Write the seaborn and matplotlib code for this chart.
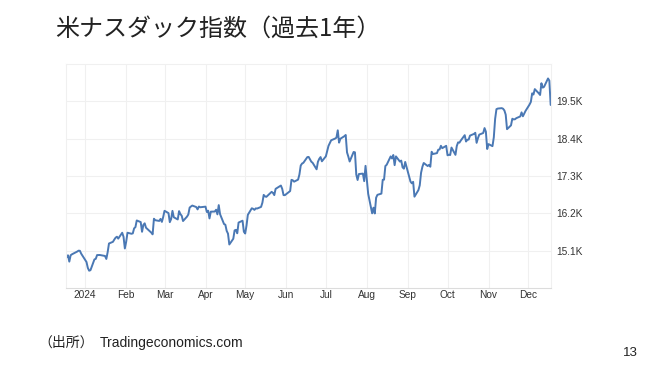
import matplotlib
matplotlib.use("Agg")
import matplotlib.pyplot as plt
import pandas as pd
import seaborn as sns

# ---- data (Nasdaq composite) ----
dates = [
    "2023-12-18","2023-12-19","2023-12-20","2023-12-21","2023-12-22","2023-12-26","2023-12-27","2023-12-28","2023-12-29",
    "2024-01-02","2024-01-03","2024-01-04","2024-01-05","2024-01-08","2024-01-09","2024-01-10","2024-01-11","2024-01-12",
    "2024-01-16","2024-01-17","2024-01-18","2024-01-19","2024-01-22","2024-01-23","2024-01-24","2024-01-25","2024-01-26",
    "2024-01-29","2024-01-30","2024-01-31","2024-02-01","2024-02-02","2024-02-05","2024-02-06","2024-02-07","2024-02-08",
    "2024-02-09","2024-02-12","2024-02-13","2024-02-14","2024-02-15","2024-02-16","2024-02-20","2024-02-21","2024-02-22",
    "2024-02-23","2024-02-26","2024-02-27","2024-02-28","2024-02-29","2024-03-01","2024-03-04","2024-03-05","2024-03-06",
    "2024-03-07","2024-03-08","2024-03-11","2024-03-12","2024-03-13","2024-03-14","2024-03-15","2024-03-18","2024-03-19",
    "2024-03-20","2024-03-21","2024-03-22","2024-03-25","2024-03-26","2024-03-27","2024-03-28","2024-04-01","2024-04-02",
    "2024-04-03","2024-04-04","2024-04-05","2024-04-08","2024-04-09","2024-04-10","2024-04-11","2024-04-12","2024-04-15",
    "2024-04-16","2024-04-17","2024-04-18","2024-04-19","2024-04-22","2024-04-23","2024-04-24","2024-04-25","2024-04-26",
    "2024-04-29","2024-04-30","2024-05-01","2024-05-02","2024-05-03","2024-05-06","2024-05-07","2024-05-08","2024-05-09",
    "2024-05-10","2024-05-13","2024-05-14","2024-05-15","2024-05-16","2024-05-17","2024-05-20","2024-05-21","2024-05-22",
    "2024-05-23","2024-05-24","2024-05-28","2024-05-29","2024-05-30","2024-05-31","2024-06-03","2024-06-04","2024-06-05",
    "2024-06-06","2024-06-07","2024-06-10","2024-06-11","2024-06-12","2024-06-13","2024-06-14","2024-06-17","2024-06-18",
    "2024-06-20","2024-06-21","2024-06-24","2024-06-25","2024-06-26","2024-06-27","2024-06-28","2024-07-01","2024-07-02",
    "2024-07-03","2024-07-05","2024-07-08","2024-07-09","2024-07-10","2024-07-11","2024-07-12","2024-07-15","2024-07-16",
    "2024-07-17","2024-07-18","2024-07-19","2024-07-22","2024-07-23","2024-07-24","2024-07-25","2024-07-26","2024-07-29",
    "2024-07-30","2024-07-31","2024-08-01","2024-08-02","2024-08-05","2024-08-06","2024-08-07","2024-08-08","2024-08-09",
    "2024-08-12","2024-08-13","2024-08-14","2024-08-15","2024-08-16","2024-08-19","2024-08-20","2024-08-21","2024-08-22",
    "2024-08-23","2024-08-26","2024-08-27","2024-08-28","2024-08-29","2024-08-30","2024-09-03","2024-09-04","2024-09-05",
    "2024-09-06","2024-09-09","2024-09-10","2024-09-11","2024-09-12","2024-09-13","2024-09-16","2024-09-17","2024-09-18",
    "2024-09-19","2024-09-20","2024-09-23","2024-09-24","2024-09-25","2024-09-26","2024-09-27","2024-09-30","2024-10-01",
    "2024-10-02","2024-10-03","2024-10-04","2024-10-07","2024-10-08","2024-10-09","2024-10-10","2024-10-11","2024-10-14",
    "2024-10-15","2024-10-16","2024-10-17","2024-10-18","2024-10-21","2024-10-22","2024-10-23","2024-10-24","2024-10-25",
    "2024-10-28","2024-10-29","2024-10-30","2024-10-31","2024-11-01","2024-11-04","2024-11-05","2024-11-06","2024-11-07",
    "2024-11-08","2024-11-11","2024-11-12","2024-11-13","2024-11-14","2024-11-15","2024-11-18","2024-11-19","2024-11-20",
    "2024-11-21","2024-11-22","2024-11-25","2024-11-26","2024-11-27","2024-11-29","2024-12-02","2024-12-03","2024-12-04",
    "2024-12-05","2024-12-06","2024-12-09","2024-12-10","2024-12-11","2024-12-12","2024-12-13","2024-12-16","2024-12-17",
    "2024-12-18",
]
values = [
    14905,14964,14777,14964,14993,15074,15100,15096,15011,
    14766,14592,14510,14524,14843,14858,14970,14970,14973,
    14944,14856,15056,15311,15361,15426,15482,15511,15455,
    15628,15509,15164,15361,15629,15598,15609,15756,15794,
    15990,15942,15656,15859,15906,15776,15631,15581,16041,
    15997,15976,16036,15948,16092,16275,16207,15940,16032,
    16273,16085,16019,16265,16178,16129,15973,16103,16167,
    16369,16402,16429,16385,16316,16400,16379,16397,16240,
    16277,16050,16249,16253,16306,16170,16443,16175,15885,
    15865,15684,15601,15282,15451,15697,15713,15612,15928,
    15983,15658,15605,15840,16156,16349,16333,16302,16346,
    16341,16389,16512,16743,16698,16686,16795,16833,16802,
    16737,16921,17019,16921,16737,16735,16829,16857,17187,
    17173,17133,17193,17343,17608,17667,17689,17857,17862,
    17721,17689,17497,17718,17805,17858,17733,17879,18029,
    18188,18352,18403,18430,18647,18283,18398,18473,18509,
    17996,17871,17727,18008,17997,17342,17182,17358,17370,
    17147,17599,17194,16776,16200,16367,16196,16660,16745,
    16781,17188,17192,17594,17631,17877,17817,17919,17619,
    17878,17725,17754,17556,17516,17714,17136,17084,17128,
    16691,16885,17026,17396,17570,17684,17593,17628,17573,
    18014,17948,17974,18075,18082,18190,18120,18189,17910,
    17925,17918,18138,17923,18183,18291,18282,18343,18503,
    18316,18367,18374,18490,18540,18573,18277,18415,18519,
    18567,18712,18607,18095,18240,18179,18439,18983,19269,
    19287,19299,19282,19231,19107,18680,18792,18988,18967,
    18972,19004,19055,19175,19060,19218,19404,19481,19735,
    19701,19860,19737,19687,20034,19903,19927,20174,20110,
    19393,
]
y_ticks = [15100, 16200, 17300, 18400, 19500]
y_tick_labels = ["15.1K", "16.2K", "17.3K", "18.4K", "19.5K"]
x_tick_labels = ["2024", "Feb", "Mar", "Apr", "May", "Jun", "Jul", "Aug", "Sep", "Oct", "Nov", "Dec"]

df = pd.DataFrame({"date": pd.to_datetime(dates), "value": values})

sns.set_theme(style="white")
plt.rcParams["font.family"] = ["Liberation Sans", "Noto Sans CJK JP", "DejaVu Sans"]

fig = plt.figure(figsize=(6.6, 3.71), dpi=100)
fig.patch.set_facecolor("white")
ax = fig.add_axes([66/660, 1-288/371, (551-66)/660, (288-64)/371])

sns.lineplot(data=df, x="date", y="value", ax=ax, color="#4a78b4", linewidth=1.4)

ax.set_xlim(pd.Timestamp("2023-12-17 12:00"), pd.Timestamp("2024-12-18 06:00"))
ax.set_ylim(14000, 20600)

ax.yaxis.tick_right()
ax.set_yticks(y_ticks)
ax.set_yticklabels(y_tick_labels)
month_ticks = pd.date_range("2024-01-01", "2024-12-01", freq="MS")
ax.set_xticks(month_ticks)
ax.set_xticklabels(x_tick_labels)
ax.tick_params(axis="both", length=0, labelsize=7.3, colors="#333333")
ax.tick_params(axis="y", pad=4)
ax.tick_params(axis="x", pad=1.5)
ax.set_xlabel("")
ax.set_ylabel("")

ax.grid(True, color="#f0f0f0", linewidth=0.8)
ax.set_axisbelow(True)
for s in ax.spines.values():
    s.set_visible(True)
    s.set_color("#f0f0f0")
    s.set_linewidth(0.8)
ax.spines["bottom"].set_color("#dcdcdc")

cjk = ["Noto Sans CJK JP", "DejaVu Sans"]
fig.text(55/660, 1-29/371, "米ナスダック指数（過去1年）", fontsize=17.3,
         family=cjk, color="#222222", ha="left", va="center")
fig.text(38/660, 1-343/371, "（出所）", fontsize=10, family=cjk,
         color="#222222", ha="left", va="center")
fig.text(100/660, 1-343/371, "Tradingeconomics.com", fontsize=10,
         family=["Liberation Sans"], color="#222222", ha="left", va="center")
fig.text(638/660, 1-353/371, "13", fontsize=9.5, family=["Liberation Sans"],
         color="#222222", ha="right", va="center")

fig.savefig("out.png", dpi=100)
